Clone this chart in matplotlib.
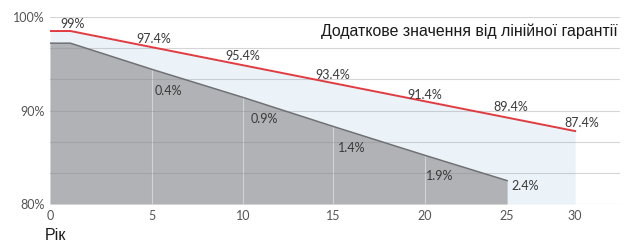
import numpy as np
import matplotlib
matplotlib.use('Agg')
import matplotlib.pyplot as plt

# Дані
years_ticks = [0, 5, 10, 15, 20, 25, 30]
y_tick_vals = [80, 90, 100]
y_tick_labels = ['80%', '90%', '100%']

red_years = [0, 1, 30]
red_vals = [98.5, 98.5, 87.8]

gray_years = [0, 1, 5, 10, 15, 20, 25]
gray_vals = [97.2, 97.2, 94.4, 91.4, 88.3, 85.2, 82.5]

red_label_years = [1.1, 5.1, 10.0, 15.0, 20.0, 25.3, 30.5]
red_label_vals = [99.3, 97.7, 95.8, 93.8, 91.7, 90.4, 88.7]
red_labels = ['99%', '97.4%', '95.4%', '93.4%', '91.4%', '89.4%', '87.4%']

gray_label_years = [5.9, 11.2, 16.0, 20.9, 26.3]
gray_label_vals = [92.1, 89.1, 86.0, 83.0, 81.9]
gray_labels = ['0.4%', '0.9%', '1.4%', '1.9%', '2.4%']

title = 'Додаткове значення від лінійної гарантії'
xlabel = 'Рік'

# нерівномірна шкала років, як на оригінальному малюнку
knots_year = [0, 5, 10, 15, 20, 25, 30, 35]
knots_pos = [0, 102, 193, 283, 375, 457, 525, 593]


def fwd(x):
    return np.interp(x, knots_year, knots_pos)


def inv(x):
    return np.interp(x, knots_pos, knots_year)


fig = plt.figure(figsize=(6.32, 2.42), dpi=100)
ax = fig.add_axes([50 / 632, 1 - 204 / 242, 570 / 632, 187 / 242])
ax.set_xscale('function', functions=(fwd, inv))
ax.set_xlim(0, 33.3)
ax.set_ylim(80, 100)

# світло-блакитна область під червоною лінією
ax.fill_between(red_years, red_vals, 80, color='#ebf3f9', lw=0, zorder=1)
# сіра область
ax.fill_between(gray_years, gray_vals, 80, color='#b1b2b5', lw=0, zorder=2)
ax.plot(gray_years, gray_vals, color='#6f7073', lw=1.1, zorder=4)

# білі вертикальні лінії всередині сірої області
for yr, v in zip(gray_years[2:6], gray_vals[2:6]):
    ax.vlines(yr, 80, v, color='white', lw=0.8, alpha=0.45, zorder=3)

# горизонтальна сітка
for g in np.linspace(80, 100, 7):
    ax.axhline(g, color='#86878a', lw=0.8, alpha=0.35, zorder=3)

ax.plot(red_years, red_vals, color='#e23b40', lw=1.4, zorder=5)

for x, y, s in zip(red_label_years, red_label_vals, red_labels):
    ax.text(x, y, s, ha='center', va='center', fontsize=9, color='#3a3a3a',
            family=['Lato', 'DejaVu Sans'], zorder=6)
for x, y, s in zip(gray_label_years, gray_label_vals, gray_labels):
    ax.text(x, y, s, ha='center', va='center', fontsize=9, color='#3a3a3a',
            family=['Lato', 'DejaVu Sans'], zorder=6)

ax.text(0.995, 1 - 14 / 187, title, transform=ax.transAxes, ha='right',
        va='center', fontsize=11.4, color='#1a1a1a',
        family=['Liberation Sans', 'DejaVu Sans'], zorder=6)

ax.set_xticks(years_ticks)
ax.set_xticklabels([str(v) for v in years_ticks], fontsize=9, color='#555555',
                   family=['Lato', 'DejaVu Sans'])
ax.set_yticks(y_tick_vals)
ax.set_yticklabels(y_tick_labels, fontsize=9, color='#555555',
                   family=['Lato', 'DejaVu Sans'])
ax.tick_params(length=0, pad=4)
for sp in ax.spines.values():
    sp.set_visible(False)

fig.text(45 / 632, 1 - 236 / 242, xlabel, ha='left', va='center', fontsize=11.5,
         color='#1a1a1a', family=['Liberation Sans', 'DejaVu Sans'])

fig.savefig('out.png', dpi=100)
